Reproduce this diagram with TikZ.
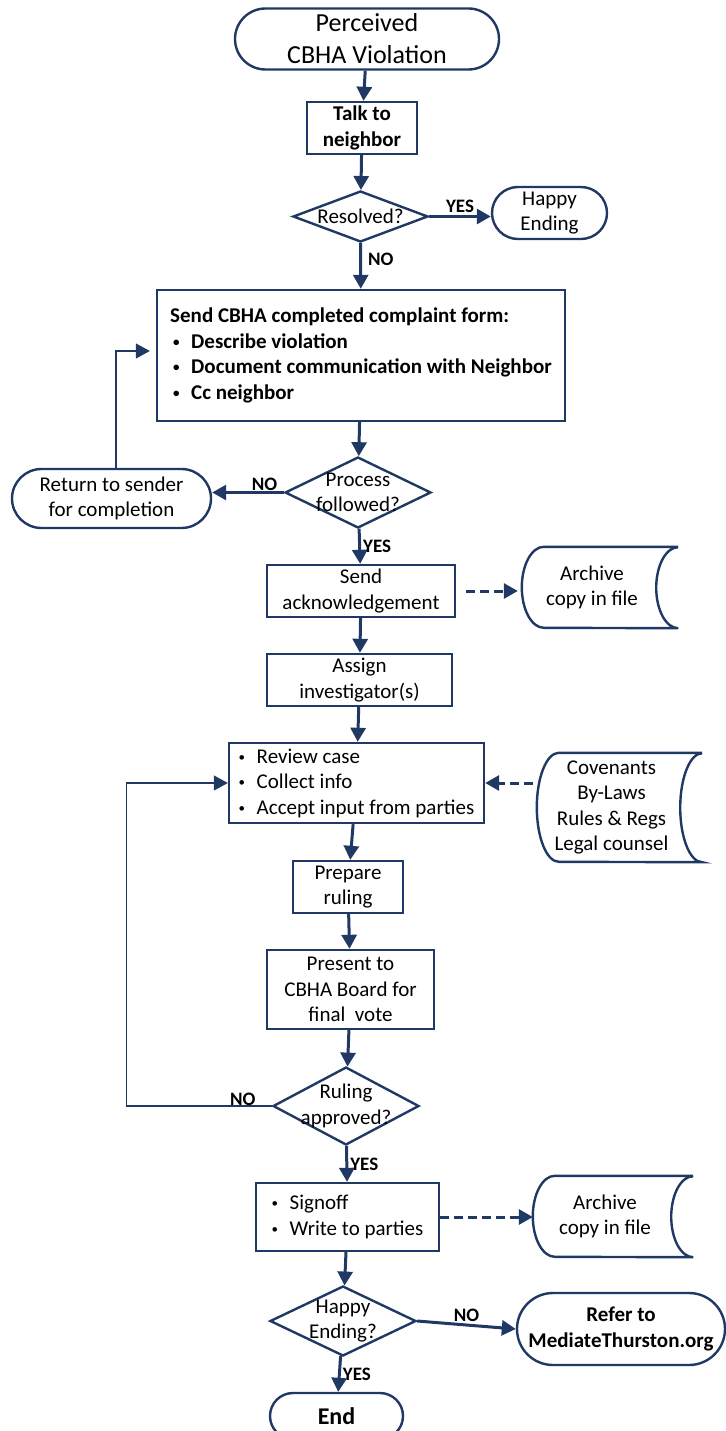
\documentclass[tikz,border=0pt]{standalone}
\usepackage{fontspec}
\setmainfont{Carlito}
\usetikzlibrary{shapes.geometric,shapes.misc,arrows.meta}
\definecolor{navy}{RGB}{32,56,100}
\newcommand{\bitem}{\makebox[18pt][l]{\raisebox{2pt}{\fontsize{13}{13}\selectfont\textbullet}}}
% stored data outline round a named node: #1 node, #2 half height
\newcommand{\storeshape}[2]{%
  \draw[store] ([xshift=8pt]#1.north east) -- ([xshift=30pt]#1.north west)
    arc[start angle=90, end angle=270, x radius=22pt, y radius=#2]
    -- ([xshift=8pt]#1.south east)
    arc[start angle=270, end angle=90, x radius=22pt, y radius=#2];}

\begin{document}
\begin{tikzpicture}[x=1pt, y=-1pt,
	font=\fontsize{21}{25.5}\selectfont,
	terminal/.style={rounded rectangle, draw=navy, line width=2.4pt, align=center, inner sep=0pt},
	process/.style={rectangle, draw=navy, line width=2.4pt, align=center, inner sep=0pt},
	decision/.style={diamond, draw=navy, line width=2.4pt, inner sep=0pt},
	storebox/.style={rectangle, align=center, inner sep=0pt},
	store/.style={draw=navy, line width=2.4pt},
	bold/.style={font=\fontsize{21}{25.5}\selectfont\bfseries},
	flow/.style={draw=navy, line width=3pt, -{Triangle[length=14pt,width=15pt]}},
	dflow/.style={flow, dash pattern=on 9pt off 5pt},
	backflow/.style={draw=navy, line width=1.3pt, -{Triangle[length=14pt,width=15pt]}},
	lbl/.style={font=\fontsize{19}{22}\selectfont\bfseries, inner sep=2pt}
]
	\useasboundingbox (0,0) rectangle (725,1431);

	% main column
	\node[terminal, minimum width=264pt, minimum height=61pt, font=\fontsize{26}{32}\selectfont] (start) at (367,39) {Perceived\\CBHA Violation};
	\node[process, bold, minimum width=110pt, minimum height=52pt] (talk) at (362,128) {Talk to\\neighbor};
	\node[decision, minimum width=135pt, minimum height=51pt, label={[align=center]center:Resolved?}] (res) at (360.5,216.5) {};
	\node[terminal, minimum width=115pt, minimum height=52pt] (happy) at (549.5,213) {Happy\\Ending};
	\node[process, bold, minimum width=408pt, minimum height=131pt, align=left] (form) at (361,355.5)
		{Send CBHA completed complaint form:\\
		\hspace*{3pt}\bitem Describe violation\\
		\hspace*{3pt}\bitem Document communication with Neighbor\\
		\hspace*{3pt}\bitem Cc neighbor};
	\node[decision, minimum width=146pt, minimum height=71pt, label={[align=center]center:Process\\followed?}] (proc) at (358,492.5) {};
	\node[terminal, minimum width=199pt, minimum height=59pt] (ret) at (111.5,498.5) {Return to sender\\for completion};
	\node[process, minimum width=188pt, minimum height=52pt] (ack) at (361,591) {Send\\acknowledgement};
	\node[storebox, minimum width=156pt, minimum height=81pt] (arch1) at (592,587.5) {Archive\\copy in file};
	\node[process, minimum width=185pt, minimum height=52pt] (assign) at (359.5,680) {Assign\\investigator(s)};
	\node[process, minimum width=255pt, minimum height=80pt, align=left] (review) at (356.5,783)
		{\bitem Review case\\\bitem Collect info\\\bitem Accept input from parties};
	\node[storebox, minimum width=165pt, minimum height=109pt] (cov) at (611.5,807.5) {Covenants\\By-Laws\\Rules \& Regs\\Legal counsel};
	\node[process, minimum width=110pt, minimum height=52pt] (prep) at (348,887) {Prepare\\ruling};
	\node[process, minimum width=167pt, minimum height=79pt] (present) at (350.5,989.5) {Present to\\CBHA Board for\\final~ vote};
	\node[decision, minimum width=146pt, minimum height=78pt, label={[align=center]center:Ruling\\approved?}] (rul) at (346,1106) {};
	\node[process, minimum width=183pt, minimum height=68pt, align=left] (sign) at (347.5,1217)
		{\bitem Signoff\\\bitem Write to parties};
	\node[storebox, minimum width=160pt, minimum height=81pt] (arch2) at (605,1216.5) {Archive\\copy in file};
	\node[decision, minimum width=146pt, minimum height=70pt, label={[align=center]center:Happy\\Ending?}] (hap) at (343,1321) {};
	\node[terminal, bold, minimum width=208pt, minimum height=72pt] (refer) at (621,1329) {Refer to\\MediateThurston.org};
	\node[terminal, minimum width=133pt, minimum height=46pt, font=\fontsize{24}{28}\selectfont\bfseries] (end) at (336.5,1416) {End};

	\storeshape{arch1}{40.5pt}
	\storeshape{cov}{54.5pt}
	\storeshape{arch2}{40.5pt}

	% connectors
	\draw[flow] (start) -- (talk);
	\draw[flow] (talk) -- (res);
	\draw[flow] (res.east) -- (res.east -| happy.west) node[lbl, midway, above] {YES};
	\draw[flow] (res) -- (form) node[lbl, pos=0.35, right=4pt] {NO};
	\draw[flow] (form) -- (proc);
	\draw[flow] (proc.west) -- (proc.west -| ret.east) node[lbl, pos=0.27, above, inner sep=0pt] {NO};
	\draw[backflow, shorten >=6pt] ([xshift=4.5pt]ret.north) |- ([yshift=4.5pt]form.west);
	\draw[flow] (proc) -- (ack) node[lbl, midway, right] {YES};
	\draw[dflow, shorten <=10pt] (ack.east) -- ([xshift=4pt]arch1.west |- ack.east);
	\draw[flow] (ack) -- (assign);
	\draw[flow] (assign) -- (review);
	\draw[dflow] ([xshift=4pt]cov.west |- review.east) -- (review.east);
	\draw[flow] (review) -- (prep);
	\draw[flow] (prep) -- (present);
	\draw[flow] (present) -- (rul);
	\draw[backflow] (rul.west) -| ([xshift=-101pt]review.west) node[lbl, pos=0.1, above, inner sep=0pt] {NO} -- (review.west);
	\draw[flow] (rul) -- (sign) node[lbl, midway, right] {YES};
	\draw[dflow] (sign.east) -- ([xshift=8pt]arch2.west |- sign.east);
	\draw[flow] (sign) -- (hap);
	\draw[flow] (hap.east) -- (refer.west) node[lbl, midway, above] {NO};
	\draw[flow] (hap) -- (end) node[lbl, midway, right] {YES};
\end{tikzpicture}
\end{document}
